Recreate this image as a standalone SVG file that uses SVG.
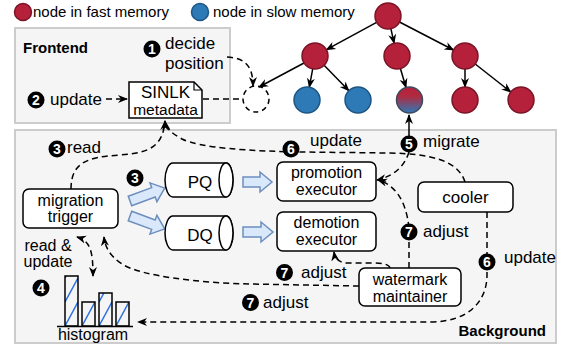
<svg xmlns="http://www.w3.org/2000/svg" width="562" height="352" viewBox="0 0 562 352">
<style>
text{font-family:"Liberation Sans",Arial,Helvetica,sans-serif;fill:#000}
.t{font-size:17px;text-anchor:middle}
.t2{font-size:16px;text-anchor:middle}
.l{font-size:17px}
.lg{font-size:15px}
.b{font-size:15px;font-weight:bold}
.box{fill:#fff;stroke:#000;stroke-width:1.5}
.panel{fill:#f5f5f5;stroke:#cccccc;stroke-width:2}
.red{fill:#b5213a;stroke:#7a1426;stroke-width:1.5}
.blue{fill:#2e7ab6;stroke:#1d5584;stroke-width:1.5}
.edge{fill:none;stroke:#000;stroke-width:1.5}
.d{fill:none;stroke:#000;stroke-width:1.5;stroke-dasharray:6,4}
.blk{fill:#dae8fc;stroke:#6c8ebf;stroke-width:1.5}
.num{fill:#000}
.nt{font-size:14px;font-weight:bold;fill:#fff;text-anchor:middle}
.hat{stroke:#2b6fe0;stroke-width:1.5}
</style>
<defs>
<marker id="ah" viewBox="0 0 10 10" refX="9" refY="5" markerWidth="10" markerHeight="10" markerUnits="userSpaceOnUse" orient="auto-start-reverse">
<path d="M0,1 L10,5 L0,9 L3,5 z" fill="#000"/>
</marker>
<linearGradient id="grad" x1="0" y1="0" x2="0" y2="1">
<stop offset="0" stop-color="#b5213a"/>
<stop offset="0.35" stop-color="#b02a40"/>
<stop offset="1" stop-color="#2e7ab6"/>
</linearGradient>
<pattern id="hatch" patternUnits="userSpaceOnUse" x="65" y="302" width="17" height="24">
<line x1="0" y1="24" x2="13" y2="0" class="hat"/>
</pattern>
</defs>

<!-- legend -->
<g id="legend">
<circle cx="23" cy="12" r="8.5" class="red"/>
<text x="33" y="17" class="lg">node in fast memory</text>
<circle cx="200" cy="12" r="8.5" class="blue"/>
<text x="213" y="17" class="lg">node in slow memory</text>
</g>

<!-- panels -->
<g id="frontend">
<rect x="15" y="28" width="215" height="95" class="panel"/>
<text x="23" y="53" class="b">Frontend</text>
</g>
<g id="background">
<rect x="15" y="130" width="541" height="213" class="panel"/>
<text x="546" y="336" class="b" text-anchor="end">Background</text>
</g>

<!-- tree -->
<g id="tree">
<g class="edge" marker-end="url(#ah)">
<line x1="376.6" y1="22.3" x2="326.4" y2="49.7"/>
<line x1="390.9" y1="28.7" x2="394.1" y2="43.3"/>
<line x1="399.5" y1="22" x2="453.5" y2="50"/>
<line x1="312.7" y1="68.8" x2="309.3" y2="87.2"/>
<line x1="324.1" y1="65.3" x2="348.9" y2="90.7"/>
<line x1="304" y1="63" x2="259" y2="87"/>
<line x1="400.4" y1="68.5" x2="406" y2="87.5"/>
<line x1="465" y1="69" x2="465" y2="87"/>
<line x1="475.2" y1="64" x2="510.8" y2="92"/>
</g>
<g id="root"><circle cx="388" cy="16" r="13" class="red"/></g>
<g id="n2a"><circle cx="315" cy="56" r="13" class="red"/></g>
<g id="n2b"><circle cx="397" cy="56" r="13" class="red"/></g>
<g id="n2c"><circle cx="465" cy="56" r="13" class="red"/></g>
<g id="n3a"><circle cx="307" cy="100" r="13" class="blue"/></g>
<g id="n3b"><circle cx="358" cy="100" r="13" class="blue"/></g>
<g id="n3c"><circle cx="409.5" cy="100" r="13" fill="url(#grad)" stroke="#3d4a5e" stroke-width="1.5"/></g>
<g id="n3d"><circle cx="465" cy="100" r="13" class="red"/></g>
<g id="n3e"><circle cx="521" cy="100" r="13" class="red"/></g>
<g id="newpos"><circle cx="256" cy="99" r="13" fill="none" stroke="#000" stroke-width="1.5" stroke-dasharray="5,4"/></g>
</g>

<!-- connectors -->
<g id="connectors">
<path class="d" d="M227,57 C245,58 253,66 253,86" marker-end="url(#ah)"/>
<path class="d" d="M106,99 L127,99" marker-end="url(#ah)"/>
<path class="d" d="M203,99 L243,99"/>
<path class="d" d="M71,189 C71,162 88,157 120,155 C150,153 163,146 165,121" marker-end="url(#ah)"/>
<path class="d" d="M465,182 C458,160 430,154 390,153 L300,152 C250,151 200,148 182,139 C171,133 166,128 165,121" marker-end="url(#ah)"/>
<path class="edge" d="M409,136 L409,115" marker-end="url(#ah)"/>
<path class="d" d="M409,152 C405,165 395,176 377,180" marker-end="url(#ah)"/>
<path class="d" d="M409,268 L409,228 C406,200 395,185 378,180" marker-end="url(#ah)"/>
<path class="d" d="M390,268 C389,264 382,263 372,263 L347,263 C340,263 335,259 334,252" marker-end="url(#ah)"/>
<path class="d" d="M359,286 L250,284 C200,283 140,276 122,264 C110,256 105,247 104,237" marker-end="url(#ah)"/>
<path class="d" d="M77,237 C90,241 93,250 93,276" marker-start="url(#ah)" marker-end="url(#ah)"/>
<path class="d" d="M487,212 L487,275 C487,300 470,322 430,322 L138,322" marker-end="url(#ah)"/>
<!-- block arrows -->
<polygon class="blk" points="0,-5 25,-5 25,-10 37,0 25,10 25,5 0,5" transform="translate(130,201) rotate(-20.4)"/>
<polygon class="blk" points="0,-5 25,-5 25,-10 37,0 25,10 25,5 0,5" transform="translate(130,216) rotate(20.4)"/>
<polygon class="blk" points="0,-5 17,-5 17,-10 29,0 17,10 17,5 0,5" transform="translate(243,182)"/>
<polygon class="blk" points="0,-5 18,-5 18,-10 30,0 18,10 18,5 0,5" transform="translate(243,232)"/>
</g>

<!-- nodes -->
<g id="sinlk">
<path d="M129,82 L194,82 L202,90 L202,118 L129,118 Z" class="box"/>
<path d="M194,82 L194,90 L202,90" fill="none" stroke="#000" stroke-width="1.2"/>
<text x="165.5" y="98" class="t">SINLK</text>
<text x="165.5" y="114.5" class="t2" style="font-size:15.5px">metadata</text>
</g>
<g id="trigger">
<rect x="23" y="189" width="95" height="39" rx="6" class="box"/>
<text x="70.5" y="206" class="t2">migration</text>
<text x="70.5" y="222" class="t2">trigger</text>
</g>
<g id="pq">
<path d="M173,163 L226,163 A7,17 0 0 1 226,197 L173,197 A8,17 0 0 1 173,163 Z" class="box"/>
<ellipse cx="226" cy="180" rx="7" ry="17" class="box"/>
<text x="200" y="188" class="t">PQ</text>
</g>
<g id="dq">
<path d="M173,216 L226,216 A7,17 0 0 1 226,250 L173,250 A8,17 0 0 1 173,216 Z" class="box"/>
<ellipse cx="226" cy="233" rx="7" ry="17" class="box"/>
<text x="200" y="241" class="t">DQ</text>
</g>
<g id="promotion">
<rect x="277" y="162" width="99" height="39" rx="6" class="box"/>
<text x="326.5" y="178" class="t2">promotion</text>
<text x="326.5" y="195" class="t2">executor</text>
</g>
<g id="demotion">
<rect x="277" y="212" width="99" height="39" rx="6" class="box"/>
<text x="326.5" y="228" class="t2">demotion</text>
<text x="326.5" y="245" class="t2">executor</text>
</g>
<g id="cooler">
<rect x="418" y="182" width="95" height="30" rx="6" class="box"/>
<text x="465.5" y="203" class="t">cooler</text>
</g>
<g id="watermark">
<rect x="359" y="268" width="102" height="38" rx="6" class="box"/>
<text x="410" y="285" class="t2">watermark</text>
<text x="410" y="301.5" class="t2">maintainer</text>
</g>
<g id="histogram">
<rect x="65" y="276" width="13" height="50" fill="url(#hatch)" stroke="#000" stroke-width="1.5"/>
<rect x="82" y="302" width="13" height="24" fill="url(#hatch)" stroke="#000" stroke-width="1.5"/>
<rect x="99" y="293" width="13" height="33" fill="url(#hatch)" stroke="#000" stroke-width="1.5"/>
<rect x="116" y="302" width="13" height="24" fill="url(#hatch)" stroke="#000" stroke-width="1.5"/>
<line x1="57" y1="326.5" x2="133" y2="326.5" stroke="#000" stroke-width="1.5"/>
<text x="93" y="340" class="t2">histogram</text>
</g>

<!-- labels -->
<g id="labels">
<circle cx="152" cy="49" r="8.5" class="num"/><text x="152" y="54" class="nt">1</text>
<text x="165" y="49" class="l">decide</text>
<text x="165" y="69" class="l">position</text>
<circle cx="36" cy="100" r="8.5" class="num"/><text x="36" y="105" class="nt">2</text>
<text x="50" y="105" class="l">update</text>
<circle cx="57" cy="149" r="8.5" class="num"/><text x="57" y="154" class="nt">3</text>
<text x="67" y="153" class="l">read</text>
<circle cx="135" cy="178" r="8.5" class="num"/><text x="135" y="183" class="nt">3</text>
<text x="48" y="251" class="t2">read &amp;</text>
<text x="48" y="267" class="t2">update</text>
<circle cx="41" cy="288" r="8.5" class="num"/><text x="41" y="293" class="nt">4</text>
<circle cx="409" cy="144" r="8.5" class="num"/><text x="409" y="149" class="nt">5</text>
<text x="423" y="147" class="l">migrate</text>
<circle cx="291" cy="149" r="8.5" class="num"/><text x="291" y="154" class="nt">6</text>
<text x="310" y="146" class="l">update</text>
<circle cx="487" cy="262" r="8.5" class="num"/><text x="487" y="267" class="nt">6</text>
<text x="504" y="263" class="l">update</text>
<circle cx="409" cy="232" r="8.5" class="num"/><text x="409" y="237" class="nt">7</text>
<text x="423" y="237" class="l">adjust</text>
<circle cx="284.5" cy="272.5" r="8.5" class="num"/><text x="284.5" y="277.5" class="nt">7</text>
<text x="301" y="278" class="l">adjust</text>
<circle cx="250.5" cy="302.5" r="8.5" class="num"/><text x="250.5" y="307.5" class="nt">7</text>
<text x="263" y="308" class="l">adjust</text>
</g>
</svg>
